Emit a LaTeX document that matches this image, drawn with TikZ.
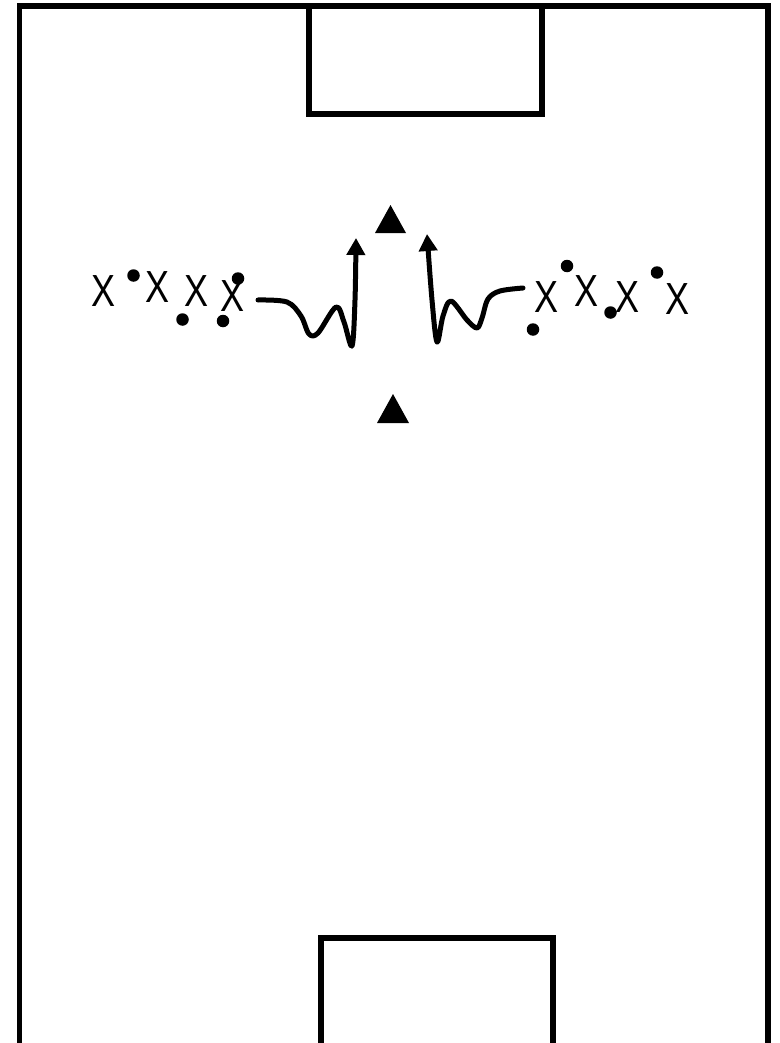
\documentclass[tikz,border=0pt]{standalone}
\usepackage{fontspec}
\newfontfamily\xfont{Liberation Sans}
\usetikzlibrary{arrows.meta}
\tikzset{
  line/.style={line width=5.5pt},
  player/.style={inner sep=0pt, font=\xfont\fontsize{45}{45}\selectfont, xscale=0.8, transform shape},
  ball/.style={circle, fill=black, inner sep=0pt, minimum size=12.5pt},
  run/.style={line width=5pt, line cap=round, line join=round, -{Triangle[length=17pt,width=18pt]}},
  cone/.style={fill=black}
}
\begin{document}
\begin{tikzpicture}[x=1pt,y=-1pt]
\useasboundingbox (0,0) rectangle (779,1043);
\fill[white] (0,0) rectangle (779,1043);
% field
\draw[line] (19.5,1070) -- (19.5,6) -- (768,6) -- (768,1070);
% goals
\draw[line] (309,6) -- (309,114) -- (542,114) -- (542,6);
\draw[line] (321,1070) -- (321,938) -- (553,938) -- (553,1070);
% cones
\fill[cone] (375,233) -- (390.5,205) -- (406,233) -- cycle;
\fill[cone] (377,423) -- (393,394) -- (409,423) -- cycle;
% left group
\node[player] (x1) at (103.5,291.5) {X};
\node[player] (x2) at (158,287) {X};
\node[player] (x3) at (197,291.5) {X};
\node[player] (x4) at (233,296) {X};
\node[ball] (b1) at (133.5,275.5) {};
\node[ball] (b2) at (182.5,319.5) {};
\node[ball] (b3) at (238,278.5) {};
\node[ball] (b4) at (223,321) {};
% right group
\node[player] (x5) at (546,297.5) {X};
\node[player] (x6) at (586,291.5) {X};
\node[player] (x7) at (627,297.5) {X};
\node[player] (x8) at (677,299) {X};
\node[ball] (b5) at (533,329.5) {};
\node[ball] (b6) at (567,266) {};
\node[ball] (b7) at (610.5,312.5) {};
\node[ball] (b8) at (657,272.5) {};
% runs
\coordinate (ls) at (258,300);
\coordinate (le) at (356,238);
\coordinate (rs) at (523,288);
\coordinate (re) at (427,234);
\draw[run] plot[smooth, tension=0.55] coordinates {(ls) (287,302) (301,316) (309,334) (318,333) (336,307) (344,322) (352,346) (355,300) (le)};
\draw[run] plot[smooth, tension=0.55] coordinates {(rs) (500,291) (488,299) (482,318) (477,328) (467,320) (451,301) (443,316) (437,342) (432,300) (re)};
\end{tikzpicture}
\end{document}
